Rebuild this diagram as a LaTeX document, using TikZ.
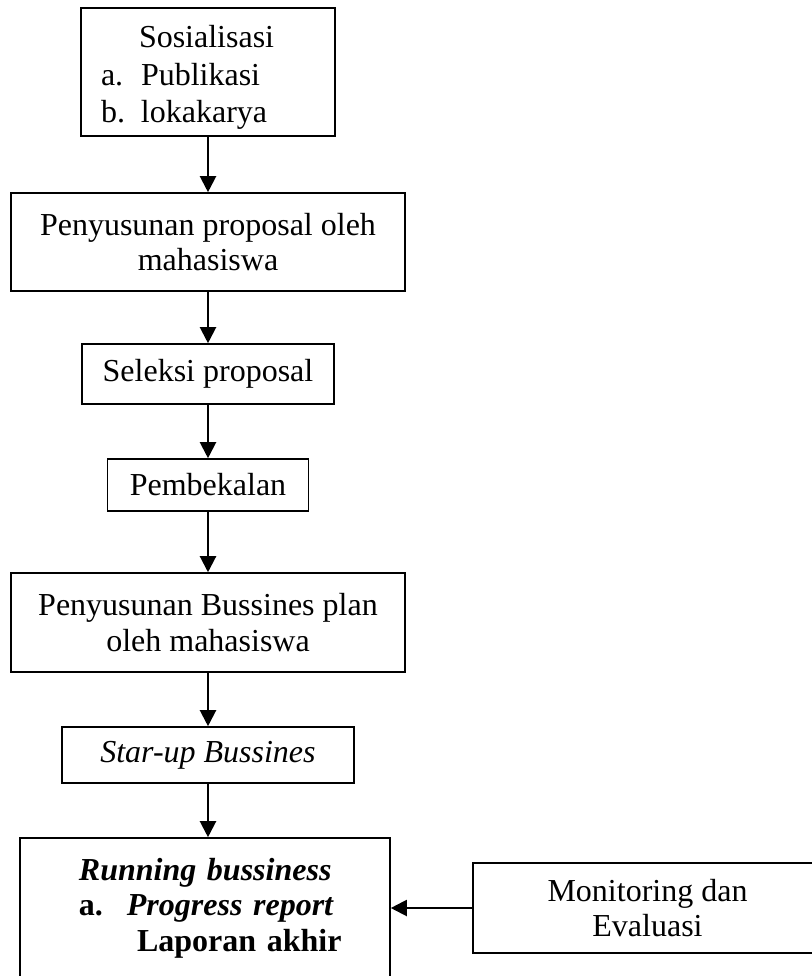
\documentclass[tikz,border=0pt]{standalone}
\usepackage{fontspec}
\setmainfont{Liberation Serif}
\usetikzlibrary{arrows.meta,positioning}

\tikzset{
  box/.style={draw, line width=0.6pt, align=center, inner sep=0pt,
    font=\fontsize{12}{13.2}\selectfont},
  arr/.style={line width=0.8pt, -{Triangle[length=6pt,width=6pt]}}
}

\begin{document}
\begin{tikzpicture}[x=0.375pt, y=-0.375pt]
% Frame
\useasboundingbox (0,0) rectangle (812,976);
\clip (0,0) rectangle (812,976);

% Draw boxes
\node[box, text width=95.25pt, minimum height=48pt, align=left,
  font=\fontsize{12}{14}\selectfont] (sos) at (208,72)
  {\hspace*{21.75pt}\rule{0pt}{12.5pt}Sosialisasi\\
   \hspace*{7.5pt}\makebox[15pt][l]{a.}Publikasi\\
   \hspace*{7.5pt}\makebox[15pt][l]{b.}lokakarya};
\node[box, minimum width=147.75pt, minimum height=36.75pt] (prop) at (208,242)
  {Penyusunan proposal oleh\\ mahasiswa};
\node[box, minimum width=94.5pt, minimum height=22.5pt] (sel) at (208,374)
  {Seleksi proposal};
\node[box, minimum width=75.4pt, minimum height=19.5pt] (bekal) at (208,485)
  {Pembekalan};
\node[box, minimum width=147.75pt, minimum height=37.1pt] (plan) at (208,622.5)
  {Penyusunan Bussines plan\\ oleh mahasiswa};
\node[box, minimum width=109.5pt, minimum height=21pt] (start) at (208,755)
  {\textit{Star-up Bussines}};
\node[box, text width=138.75pt, minimum height=52.5pt, align=left,
  font=\fontsize{12}{13.3}\selectfont\bfseries] (run) at (205,908)
  {\hspace*{22.1pt}\textit{Running bussiness}\\
   \hspace*{22.1pt}\makebox[18pt][l]{a.}\textit{Progress report}\\
   \hspace*{43.9pt}Laporan akhir};
\node[box, minimum width=130.9pt, minimum height=33.75pt] (mon) at (647.5,908)
  {Monitoring dan\\ Evaluasi};

% Draw arrows
\draw[arr] (sos.south) -- (prop.north);
\draw[arr] (prop.south) -- (sel.north);
\draw[arr] (sel.south) -- (bekal.north);
\draw[arr] (bekal.south) -- (plan.north);
\draw[arr] (plan.south) -- (start.north);
\draw[arr] (start.south) -- (start.south |- run.north);
\draw[arr] (mon.west) -- (run.east);
\end{tikzpicture}
\end{document}
